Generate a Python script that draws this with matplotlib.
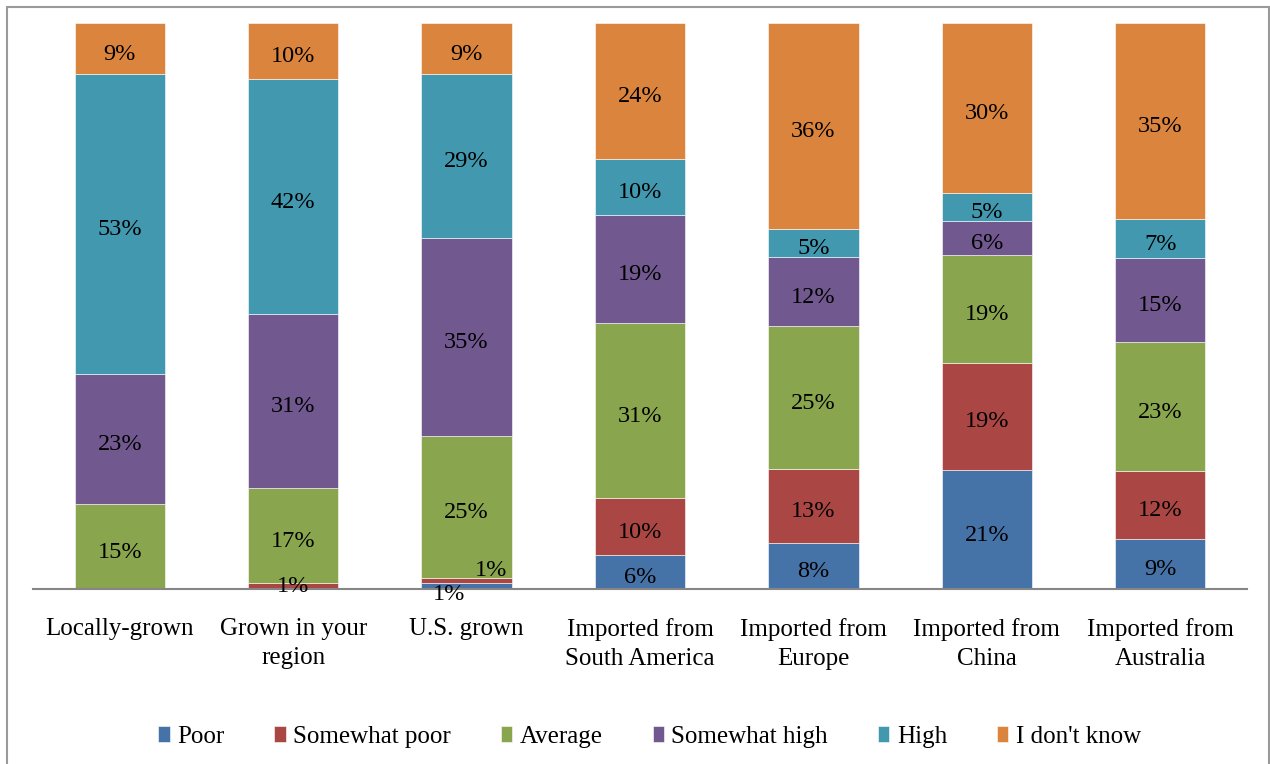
import numpy as np
import matplotlib.pyplot as plt
from matplotlib.patches import Rectangle

plt.rcParams['font.family'] = ['Liberation Serif', 'DejaVu Serif']

categories = ['Locally-grown', 'Grown in your\nregion', 'U.S. grown',
              'Imported from\nSouth America', 'Imported from\nEurope',
              'Imported from\nChina', 'Imported from\nAustralia']
series = ['Poor', 'Somewhat poor', 'Average', 'Somewhat high', 'High', "I don't know"]
poor = [0, 0, 1, 6, 8, 21, 9]
somewhat_poor = [0, 1, 1, 10, 13, 19, 12]
average = [15, 17, 25, 31, 25, 19, 23]
somewhat_high = [23, 31, 35, 19, 12, 6, 15]
high = [53, 42, 29, 10, 5, 5, 7]
dont_know = [9, 10, 9, 24, 36, 30, 35]
colors = ['#4572A7', '#AA4643', '#89A54E', '#71588F', '#4198AF', '#DB843D']

data = np.array([poor, somewhat_poor, average, somewhat_high, high, dont_know], dtype=float)
shares = data / data.sum(axis=0)

fig = plt.figure(figsize=(12.7, 7.64), dpi=100)
fig.patches.append(Rectangle((7 / 1270, -0.01), 1262 / 1270, 1 - 7 / 764 + 0.01,
                             transform=fig.transFigure, fill=False,
                             edgecolor='#9a9a9a', linewidth=1.5))
ax = fig.add_axes([33 / 1270, 175 / 764, 1214 / 1270, 566 / 764])

x = np.arange(len(categories))
bottom = np.zeros(len(categories))
for i, name in enumerate(series):
    ax.bar(x, shares[i], 0.52, bottom=bottom, color=colors[i], label=name,
           edgecolor='white', linewidth=0.4)
    for j in range(len(categories)):
        v = data[i, j]
        if v == 0:
            continue
        cx, cy = x[j], bottom[j] + shares[i, j] / 2
        dy = -4
        # tiny 1% slices get nudged so the labels don't collide
        if v == 1 and j == 1:
            dy = 0
        elif v == 1 and j == 2 and i == 0:
            cx, cy = x[j] - 0.1, 0.0
        elif v == 1 and j == 2 and i == 1:
            cx, cy = x[j] + 0.14, 0.037
            dy = -2
        ax.annotate(f'{int(v)}%', (cx, cy), xytext=(0, dy), textcoords='offset points',
                    ha='center', va='center', fontsize=17.5, color='black')
    bottom += shares[i]

ax.set_xlim(-0.5, len(categories) - 0.5)
ax.set_ylim(0, 1)
ax.set_yticks([])
ax.set_xticks(x)
ax.set_xticklabels(categories, fontsize=18, linespacing=1.4)
ax.tick_params(axis='x', length=0, pad=21)
for side in ['top', 'right', 'left']:
    ax.spines[side].set_visible(False)
ax.spines['bottom'].set_color('#868686')
ax.spines['bottom'].set_linewidth(1.5)

ax.legend(loc='center', bbox_to_anchor=(0.508, -0.261), ncol=6, frameon=False,
          fontsize=18, handlelength=0.45, handleheight=0.6, handletextpad=0.3,
          columnspacing=2.0)

fig.savefig('out.png', dpi=100)
